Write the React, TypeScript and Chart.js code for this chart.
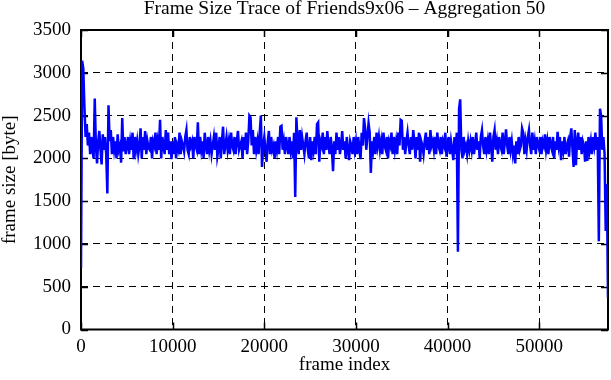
import React, { useEffect, useRef } from "react";
import { Chart, registerables } from "chart.js";

Chart.register(...registerables);

const TITLE = "Frame Size Trace of Friends9x06 \u2013 Aggregation 50";
const X_LABEL = "frame index";
const Y_LABEL = "frame size [byte]";
const FRAME_STEP = 125; // frames between plotted samples
const X_MAX = 57500;
const Y_MAX = 3500;
const X_TICKS = [0, 10000, 20000, 30000, 40000, 50000];
const Y_TICKS = [0, 500, 1000, 1500, 2000, 2500, 3000, 3500];

// frame size (bytes), one value per FRAME_STEP frames
const frameSizes = [
  720, 3140, 3050, 2600, 2250, 2400, 2150, 2300, 2050, 2250, 2100, 2000, 2700, 2150, 1940, 2200, 2320, 2100, 1930, 2280,
  2100, 2250, 2050, 1590, 2620, 2200, 2330, 2050, 2250, 2100, 2200, 2000, 2280, 2100, 2150, 1950, 2470, 2080, 2250, 2050,
  2150, 2250, 2050, 2200, 2100, 2300, 1990, 2250, 2100, 2200, 2050, 2150, 2350, 2000, 2250, 2100, 2320, 2050, 2200, 2120,
  2100, 2250, 2000, 2200, 2150, 2300, 2050, 2200, 2100, 2450, 2000, 2250, 2150, 2050, 2330, 2100, 2300, 2050, 2200, 1990,
  2200, 2050, 2250, 2000, 2150, 2100, 2300, 2050, 2200, 2150, 2080, 2250, 2330, 2100, 2050, 2250, 2150, 2200, 2000, 2250,
  2150, 2100, 2420, 2050, 2250, 2100, 2200, 2000, 2300, 2150, 2050, 2250, 2100, 2200, 2050, 2150, 2250, 2100, 2300, 2020,
  2100, 2250, 2000, 2200, 2370, 2050, 2150, 2250, 2100, 2200, 2050, 2300, 2150, 2100, 2250, 2050, 2200, 2320, 2100, 2150,
  2200, 2000, 2250, 2100, 2300, 2050, 2200, 2500, 2480, 2150, 2330, 2050, 2250, 2100, 2200, 2050, 2300, 2500, 1900, 2150,
  2250, 2100, 1960, 2200, 2320, 2050, 2250, 2100, 2150, 2000, 2200, 2100, 2250, 2050, 2370, 2380, 2100, 2200, 2050, 2250,
  2150, 2050, 2250, 2100, 2200, 2000, 2300, 1550, 2480, 2200, 2050, 2330, 2100, 2250, 2150, 2050, 2200, 2300, 2100, 2000,
  2250, 1980, 2200, 2100, 2250, 2050, 2400, 2420, 1960, 2200, 2150, 2300, 2050, 2250, 2100, 2320, 2150, 2050, 2250, 2100,
  1850, 2200, 2050, 2300, 2100, 2250, 2050, 2150, 2320, 2100, 2200, 2000, 2250, 2100, 1980, 2200, 2150, 2050, 2250, 2100,
  2200, 2050, 2250, 2100, 1990, 2300, 2150, 2470, 2350, 2100, 2250, 2410, 2300, 1830, 2200, 2100, 2250, 2050, 2300, 2150,
  2250, 2100, 2200, 2050, 2300, 2150, 2100, 2250, 2000, 2200, 2150, 2300, 2050, 2250, 2100, 2200, 2050, 2300, 2150, 2450,
  2440, 2100, 2250, 2050, 2200, 2300, 2150, 2050, 2250, 2100, 2330, 2200, 2000, 2250, 2100, 2300, 1960, 2200, 2150, 2050,
  2200, 2300, 2100, 2250, 2050, 2330, 2150, 2200, 2100, 2250, 2050, 2300, 2150, 2100, 2250, 2050, 2200, 2150, 2300, 2020,
  2150, 2250, 2050, 2200, 2100, 1980, 2250, 2050, 2300, 910, 2580, 2690, 2100, 2000, 2250, 2100, 2150, 2050, 2200, 2100,
  2200, 2100, 2250, 2050, 2150, 2300, 2100, 2200, 2000, 2250, 2330, 2150, 2050, 2250, 2100, 2200, 2050, 2300, 2150, 1960,
  2250, 2330, 2100, 2200, 2050, 2250, 2150, 2100, 2300, 2050, 2200, 2340, 2150, 2050, 2250, 2100, 2200, 2050, 2150, 1940,
  2200, 2050, 2250, 2100, 2150, 2350, 2300, 2050, 2200, 2100, 2250, 2330, 2150, 2050, 2300, 2100, 2200, 2050, 2250, 2150,
  2100, 2250, 2050, 2200, 2150, 2280, 2100, 2200, 2050, 2250, 2150, 2100, 2250, 2000, 2200, 2100, 2310, 2150, 2250, 1980,
  2200, 2100, 2250, 2050, 2150, 2200, 2020, 2250, 2350, 2100, 1900, 2330, 1920, 2200, 2300, 2100, 2250, 2050, 2200, 2150,
  1960, 2200, 1970, 2250, 2100, 2200, 2050, 2250, 2150, 2300, 2100, 2250, 1030, 2580, 2500, 2100, 2250, 2050, 1150, 1700,
  370,
];

const FONT_FAMILY = '"Liberation Serif", "Times New Roman", serif';
const TICK_LEN = 7;

const gnuplotFrame = {
  id: "gnuplotFrame",
  beforeDatasetsDraw(chart: any) {
    const { ctx, chartArea, scales } = chart;
    const { left, right, top, bottom } = chartArea;
    const xs = scales.x;
    const ys = scales.y;
    ctx.save();
    ctx.strokeStyle = "#000";
    ctx.lineWidth = 1.5;
    ctx.setLineDash([]);
    ctx.beginPath();
    xs.ticks.forEach((t: any) => {
      const px = Math.round(xs.getPixelForValue(t.value)) + 0.5;
      ctx.moveTo(px, bottom);
      ctx.lineTo(px, bottom - TICK_LEN);
      ctx.moveTo(px, top);
      ctx.lineTo(px, top + TICK_LEN);
    });
    ys.ticks.forEach((t: any) => {
      const py = Math.round(ys.getPixelForValue(t.value)) + 0.5;
      ctx.moveTo(left, py);
      ctx.lineTo(left + TICK_LEN, py);
      ctx.moveTo(right, py);
      ctx.lineTo(right - TICK_LEN, py);
    });
    ctx.stroke();
    ctx.lineWidth = 2;
    ctx.strokeRect(left, top, right - left, bottom - top);
    ctx.restore();
  },
  afterDraw(chart: any) {
    const { ctx, chartArea } = chart;
    ctx.save();
    ctx.fillStyle = "#000";
    ctx.font = `19.5px ${FONT_FAMILY}`;
    ctx.textAlign = "center";
    ctx.textBaseline = "alphabetic";
    ctx.fillText(TITLE, (chartArea.left + chartArea.right) / 2, 14);
    ctx.restore();
  },
};

export default function App() {
  const canvasRef = useRef<HTMLCanvasElement | null>(null);

  useEffect(() => {
    if (!canvasRef.current) return;
    const points = frameSizes.map((v, i) => ({ x: i * FRAME_STEP, y: v }));
    const gridColor = (ctx: any) => {
      const v = ctx.tick ? ctx.tick.value : null;
      const max = ctx.scale && ctx.scale.axis === "x" ? X_MAX : Y_MAX;
      return v === 0 || v === max ? "rgba(0,0,0,0)" : "#000";
    };
    const tickFont = { family: FONT_FAMILY, size: 19 };
    const chart = new Chart(canvasRef.current, {
      type: "line",
      data: {
        datasets: [
          {
            data: points,
            borderColor: "#0000ff",
            borderWidth: 2.5,
            pointRadius: 0,
            tension: 0,
            fill: false,
          },
        ],
      },
      options: {
        animation: false,
        responsive: false,
        devicePixelRatio: 1,
        layout: { padding: { top: 30, right: 3, left: 0, bottom: 0 } },
        plugins: {
          legend: { display: false },
          title: { display: false },
          tooltip: { enabled: false },
        },
        scales: {
          x: {
            type: "linear",
            min: 0,
            max: X_MAX,
            afterFit: (scale: any) => {
              scale.height = 50.5;
            },
            afterBuildTicks: (scale: any) => {
              scale.ticks = X_TICKS.map((v) => ({ value: v }));
            },
            ticks: {
              autoSkip: false,
              maxRotation: 0,
              padding: 6,
              color: "#000",
              font: tickFont,
              callback: (v: any) => String(v),
            },
            grid: { color: gridColor, lineWidth: 1, drawTicks: false },
            border: { display: false, dash: [7, 5] },
            title: {
              display: true,
              text: X_LABEL,
              color: "#000",
              font: tickFont,
              padding: { top: 0, bottom: 4 },
            },
          },
          y: {
            type: "linear",
            min: 0,
            max: Y_MAX,
            afterFit: (scale: any) => {
              scale.width = 81;
            },
            afterBuildTicks: (scale: any) => {
              scale.ticks = Y_TICKS.map((v) => ({ value: v }));
            },
            ticks: {
              autoSkip: false,
              padding: 10,
              color: "#000",
              font: tickFont,
              callback: (v: any) => String(v),
            },
            grid: { color: gridColor, lineWidth: 1, drawTicks: false },
            border: { display: false, dash: [7, 5] },
            title: {
              display: true,
              text: Y_LABEL,
              color: "#000",
              font: tickFont,
              padding: { top: -1, bottom: 0 },
            },
          },
        },
      },
      plugins: [gnuplotFrame],
    });
    return () => chart.destroy();
  }, []);

  return (
    <div style={{ position: "absolute", left: 0, top: 0, width: 611, height: 380, background: "#fff" }}>
      <canvas ref={canvasRef} width={611} height={380} />
    </div>
  );
}
